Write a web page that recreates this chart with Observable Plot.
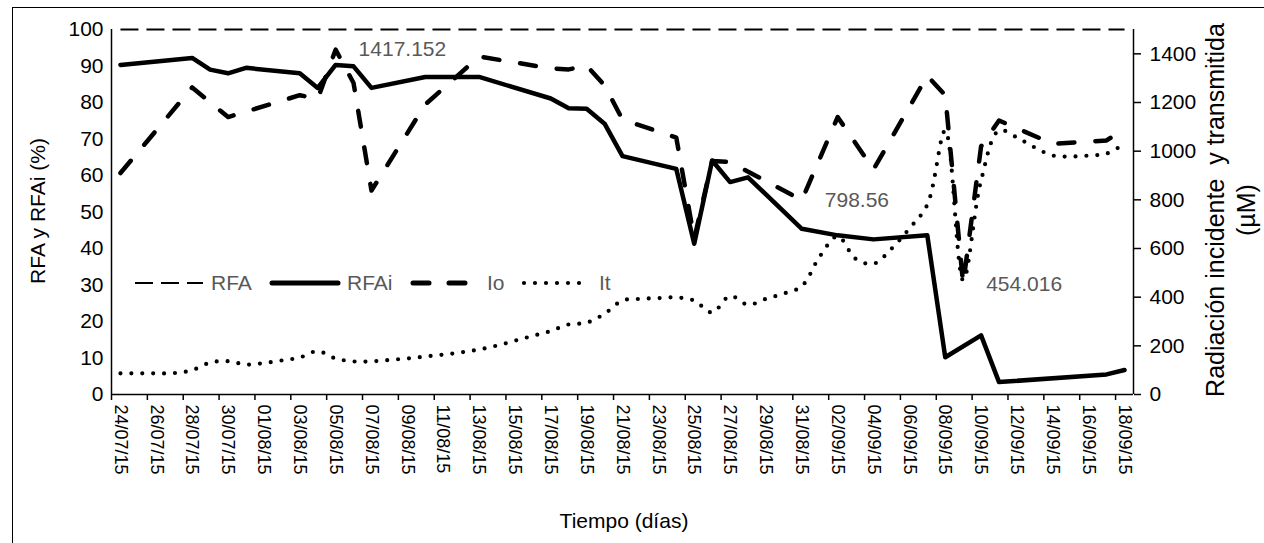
<!DOCTYPE html>
<html><head><meta charset="utf-8">
<script src="https://cdn.jsdelivr.net/npm/d3@7"></script>
<script src="https://cdn.jsdelivr.net/npm/@observablehq/plot@0.6"></script>
<style>
html,body{margin:0;padding:0;background:#fff;overflow:hidden;}
#wrap{position:relative;width:1264px;height:543px;overflow:hidden;font-family:Arial,"Liberation Sans",sans-serif;}
#border{position:absolute;left:12px;top:7px;width:1320px;height:620px;border:1.5px solid #000;box-sizing:border-box;pointer-events:none;}
.title{position:absolute;white-space:pre;color:#000;line-height:1;}
.rot{transform:translate(-50%,-50%) rotate(-90deg);text-align:center;}
#legend{position:absolute;left:0;top:0;}
svg text{font-family:Arial,"Liberation Sans",sans-serif;}
</style></head>
<body>
<div id="wrap">
  <div id="border"></div>
  <div id="chart"></div>
  <div class="title rot" style="left:37px;top:211px;font-size:21px;">RFA y RFAi (%)</div>
  <div class="title rot" style="left:1231px;top:210px;font-size:25px;line-height:31px;">Radiación incidente  y transmitida
(µM)</div>
  <div class="title" style="left:624px;top:520px;font-size:21px;transform:translate(-50%,-50%);">Tiempo (días)</div>
  <svg id="legend" width="1264" height="543"></svg>
</div>
<script>
// ---------- data ----------
const xTickLabels = ["24/07/15","26/07/15","28/07/15","30/07/15","01/08/15","03/08/15","05/08/15","07/08/15","09/08/15","11/08/15","13/08/15","15/08/15","17/08/15","19/08/15","21/08/15","23/08/15","25/08/15","27/08/15","29/08/15","31/08/15","02/09/15","04/09/15","06/09/15","08/09/15","10/09/15","12/09/15","14/09/15","16/09/15","18/09/15"];
const leftTicks = [0,10,20,30,40,50,60,70,80,90,100];
const rightTicks = [0,200,400,600,800,1000,1200,1400];

const rfaDates = ["2015-07-24","2015-09-18"];
const rfaValues = [100,100];

const rfaiDates = ["2015-07-24","2015-07-28","2015-07-29","2015-07-30","2015-07-31","2015-08-03","2015-08-04","2015-08-05","2015-08-06","2015-08-07","2015-08-10","2015-08-13","2015-08-17","2015-08-18","2015-08-19","2015-08-20","2015-08-21","2015-08-24","2015-08-25","2015-08-26","2015-08-27","2015-08-28","2015-08-31","2015-09-02","2015-09-04","2015-09-07","2015-09-08","2015-09-10","2015-09-11","2015-09-17","2015-09-18"];
const rfaiValues = [90.3,92.2,89,88,89.5,88,84,90.3,89.9,84,87,87,81.1,78.4,78.3,74.2,65.3,61.8,41.3,64.1,58.2,59.5,45.4,43.6,42.5,43.6,10.2,16.2,3.4,5.5,6.7];

const ioDates = ["2015-07-24","2015-07-28","2015-07-30","2015-08-03","2015-08-04","2015-08-05","2015-08-06","2015-08-07","2015-08-10","2015-08-13","2015-08-17","2015-08-18","2015-08-19","2015-08-20","2015-08-21","2015-08-24","2015-08-25","2015-08-26","2015-08-27","2015-08-31","2015-09-02","2015-09-04","2015-09-07","2015-09-08","2015-09-09","2015-09-10","2015-09-11","2015-09-14","2015-09-17","2015-09-18"];
const ioValues = [910,1262,1140,1230,1215,1417.152,1280,838,1192,1389,1340,1336,1352,1270,1130,1056,640,960,955,798.56,1140,925,1310,1230,454.016,1020,1126,1030,1044,1095];

const itDates = ["2015-07-24","2015-07-25","2015-07-26","2015-07-27","2015-07-28","2015-07-29","2015-07-30","2015-07-31","2015-08-01","2015-08-02","2015-08-03","2015-08-04","2015-08-05","2015-08-06","2015-08-07","2015-08-08","2015-08-09","2015-08-10","2015-08-11","2015-08-12","2015-08-13","2015-08-14","2015-08-15","2015-08-16","2015-08-17","2015-08-18","2015-08-19","2015-08-20","2015-08-21","2015-08-22","2015-08-23","2015-08-24","2015-08-25","2015-08-26","2015-08-27","2015-08-28","2015-08-29","2015-08-30","2015-08-31","2015-09-01","2015-09-02","2015-09-03","2015-09-04","2015-09-05","2015-09-06","2015-09-07","2015-09-08","2015-09-09","2015-09-10","2015-09-11","2015-09-12","2015-09-13","2015-09-14","2015-09-15","2015-09-16","2015-09-17","2015-09-18"];
const itValues = [87,87,87,88,100,131,137,123,129,140,152,178,148,136,136,142,148,156,164,173,185,201,221,241,261,288,295,332,386,393,396,399,386,337,405,369,393,415,445,567,650,558,537,599,682,780,1085,470,880,1085,1056,1015,982,978,982,990,1031];

const annotatedDates = ["2015-08-05","2015-08-31","2015-09-09"];

// ---------- build ----------
const parse = d3.utcParse("%Y-%m-%d");
const parseTick = d3.utcParse("%d/%m/%y");
const noon = d => d3.utcHour.offset(d, 12);
const k = 100 / 1500; // right-axis units -> left-axis units

const rfa = rfaDates.map((d, i) => ({date: noon(parse(d)), v: rfaValues[i]}));
const rfai = rfaiDates.map((d, i) => ({date: noon(parse(d)), v: rfaiValues[i]}));
const io = ioDates.map((d, i) => ({key: d, date: noon(parse(d)), v: ioValues[i]}));
const it = itDates.map((d, i) => ({date: noon(parse(d)), v: itValues[i]}));

const start = parseTick(xTickLabels[0]);
const end = d3.utcDay.offset(parseTick(xTickLabels[xTickLabels.length - 1]), 1);
const boundaries = xTickLabels.map(s => parseTick(s));
const labelPos = boundaries.map(noon);
const labelMap = new Map(labelPos.map((d, i) => [+d, xTickLabels[i]]));

const chart = Plot.plot({
  width: 1264,
  height: 543,
  marginLeft: 111,
  marginRight: 131,
  marginTop: 29,
  marginBottom: 149,
  style: {fontFamily: "Arial, 'Liberation Sans', sans-serif", fontSize: "21px", color: "#000", background: "transparent"},
  x: {type: "utc", domain: [start, end]},
  y: {domain: [0, 100]},
  marks: [
    Plot.axisY({ticks: leftTicks, tickSize: 0, tickPadding: 8, label: null, fontSize: 21}),
    Plot.axisY({anchor: "right", ticks: rightTicks.map(v => v * k), tickFormat: v => String(Math.round(v / k)), tickSize: 7, tickPadding: 9, label: null, fontSize: 21, strokeWidth: 1.5}),
    Plot.axisX({ticks: boundaries, tickSize: 6, tickFormat: () => "", label: null, strokeWidth: 1.5}),
    Plot.axisX({ticks: labelPos, tickSize: 0, tickRotate: 90, tickPadding: 10, tickFormat: d => labelMap.get(+d), label: null, fontSize: 18}),
    Plot.ruleY([0], {stroke: "#000", strokeWidth: 1.5}),
    Plot.ruleX([start], {stroke: "#000", strokeWidth: 1.5}),
    Plot.ruleX([end], {stroke: "#000", strokeWidth: 1.5}),
    Plot.line(rfa, {x: "date", y: "v", stroke: "#000", strokeWidth: 2, strokeDasharray: "18,8", strokeLinecap: "butt"}),
    Plot.line(it, {x: "date", y: d => d.v * k, stroke: "#000", strokeWidth: 4.2, strokeDasharray: "0,10.9", strokeLinecap: "round", curve: "catmull-rom"}),
    Plot.line(io, {x: "date", y: d => d.v * k, stroke: "#000", strokeWidth: 4.5, strokeDasharray: "16,21", strokeLinecap: "round"}),
    Plot.line(rfai, {x: "date", y: "v", stroke: "#000", strokeWidth: 4.5}),
    Plot.text(io.filter(d => annotatedDates.includes(d.key)), {x: "date", y: d => d.v * k, text: d => String(d.v), textAnchor: "start", dx: 23, fill: "#595959", fontSize: 21})
  ]
});
document.getElementById("chart").appendChild(chart);

// ---------- legend ----------
const lg = d3.select("#legend");
const ly = 283;
const items = [
  {name: "RFA", x0: 135, x1: 203, tx: 211, w: 2, dash: "18,8", cap: "butt"},
  {name: "RFAi", x0: 272, x1: 338, tx: 347, w: 5, dash: null, cap: "round"},
  {name: "Io", x0: 413, x1: 466, tx: 487, w: 5, dash: "16,20", cap: "round"},
  {name: "It", x0: 524, x1: 590, tx: 599, w: 4.2, dash: "0,11", cap: "round"}
];
for (const it2 of items) {
  lg.append("line").attr("x1", it2.x0).attr("x2", it2.x1).attr("y1", ly).attr("y2", ly)
    .attr("stroke", "#000").attr("stroke-width", it2.w).attr("stroke-linecap", it2.cap)
    .attr("stroke-dasharray", it2.dash);
  lg.append("text").attr("x", it2.tx).attr("y", ly).attr("dy", "0.35em").attr("font-size", 21)
    .attr("fill", "#595959").text(it2.name);
}
</script>
</body></html>
